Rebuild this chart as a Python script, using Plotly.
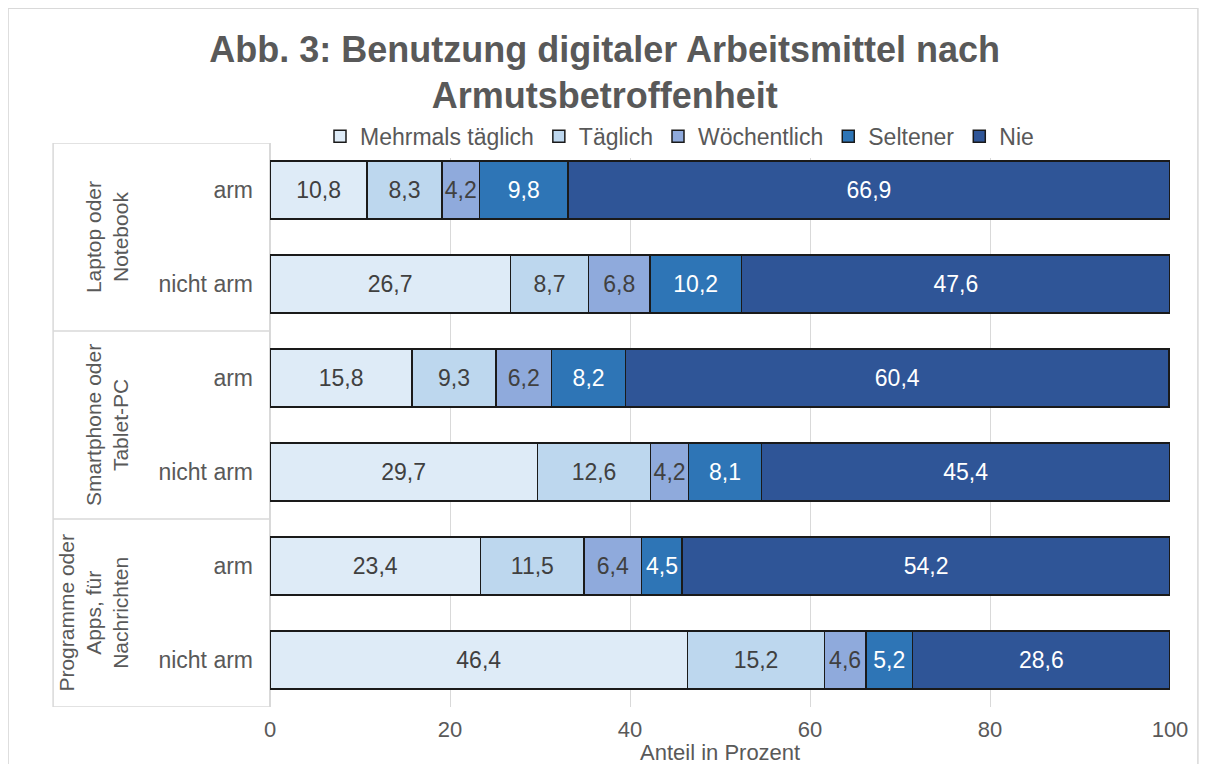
"""Stacked bar chart: Benutzung digitaler Arbeitsmittel nach Armutsbetroffenheit."""

import plotly.graph_objects as go

GROUPS = ["Laptop oder<br>Notebook", "Smartphone oder<br>Tablet-PC",
          "Programme oder<br>Apps, für<br>Nachrichten"]
ROWS = ["arm", "nicht arm", "arm", "nicht arm", "arm", "nicht arm"]
SERIES = ["Mehrmals täglich", "Täglich", "Wöchentlich", "Seltener", "Nie"]

MEHRMALS = [10.8, 26.7, 15.8, 29.7, 23.4, 46.4]
TAEGLICH = [8.3, 8.7, 9.3, 12.6, 11.5, 15.2]
WOECHENTLICH = [4.2, 6.8, 6.2, 4.2, 6.4, 4.6]
SELTENER = [9.8, 10.2, 8.2, 8.1, 4.5, 5.2]
NIE = [66.9, 47.6, 60.4, 45.4, 54.2, 28.6]

COLORS = ["#DEEBF7", "#BDD7EE", "#8FAADC", "#2E75B6", "#2F5597"]
TEXT_COLORS = ["#404040", "#404040", "#404040", "white", "white"]
GRID = "#D9D9D9"
GREY_TEXT = "#595959"
FONT = "Liberation Sans, Arial, sans-serif"

fig = go.Figure()
positions = list(range(len(ROWS)))
for name, values, color, tcolor in zip(
    SERIES, [MEHRMALS, TAEGLICH, WOECHENTLICH, SELTENER, NIE], COLORS, TEXT_COLORS
):
    fig.add_trace(
        go.Bar(
            x=values,
            y=positions,
            name=name,
            orientation="h",
            marker=dict(color=color, line=dict(color="#1a1a1a", width=1.5)),
            texttemplate="%{x:.1f}",
            textposition="inside",
            insidetextanchor="middle",
            textangle=0,
            textfont=dict(color=tcolor, size=23, family=FONT),
            constraintext="none",
        )
    )

# the page adds an 8px body margin, so the figure is 16px smaller than the window
fig.update_layout(
    width=1191,
    height=756,
    barmode="stack",
    bargap=0.38,
    separators=",.",
    margin=dict(l=262, r=29, t=135, b=57),
    paper_bgcolor="white",
    plot_bgcolor="white",
    font=dict(family=FONT, color=GREY_TEXT, size=21),
    title=dict(
        text="<b>Abb. 3: Benutzung digitaler Arbeitsmittel nach<br>Armutsbetroffenheit</b>",
        x=0.501,
        xanchor="center",
        y=0.929,
        yanchor="middle",
        font=dict(size=36, color=GREY_TEXT, family=FONT),
    ),
    legend=dict(
        orientation="h",
        x=0.455,
        xanchor="center",
        y=1.012,
        yanchor="middle",
        font=dict(size=23, color=GREY_TEXT),
        traceorder="normal",
    ),
)

fig.update_xaxes(
    range=[0, 100],
    dtick=20,
    showgrid=True,
    gridcolor=GRID,
    zeroline=True,
    zerolinecolor=GRID,
    ticks="",
    ticklabelstandoff=7,
    automargin=False,
    tickfont=dict(size=22, color=GREY_TEXT),
)
fig.update_yaxes(
    range=[5.5, -0.5],
    tickvals=positions,
    ticktext=ROWS,
    showgrid=False,
    zeroline=False,
    ticks="",
    ticklabelstandoff=16,
    automargin=False,
    tickfont=dict(size=23, color=GREY_TEXT),
)

# x axis title, placed as an annotation so it sits below the tick labels
fig.add_annotation(
    text="Anteil in Prozent", xref="paper", yref="paper", x=0.5, y=-0.080,
    xanchor="center", yanchor="middle", showarrow=False,
    font=dict(size=22, color=GREY_TEXT),
)

# outer chart border
fig.add_shape(type="rect", xref="paper", yref="paper",
              x0=-0.291, x1=1.031, y0=-0.112, y1=1.239,
              line=dict(color=GRID, width=1.5), layer="below")

# group boxes on the left
left = -0.241
fig.add_shape(type="line", xref="paper", yref="y", x0=left, x1=left, y0=-0.5, y1=5.5,
              line=dict(color=GRID, width=1.5))
for yb in [-0.5, 1.5, 3.5, 5.5]:
    fig.add_shape(type="line", xref="paper", yref="y", x0=left, x1=0, y0=yb, y1=yb,
                  line=dict(color=GRID, width=1.5))

group_x = [-0.181, -0.181, -0.196]
for i, (label, gx) in enumerate(zip(GROUPS, group_x)):
    fig.add_annotation(
        text=label, xref="paper", yref="y", x=gx, y=2 * i + 0.5,
        xanchor="center", yanchor="middle",
        textangle=-90, showarrow=False, align="center",
        font=dict(size=21, color=GREY_TEXT),
    )

fig.write_html("out.html")
